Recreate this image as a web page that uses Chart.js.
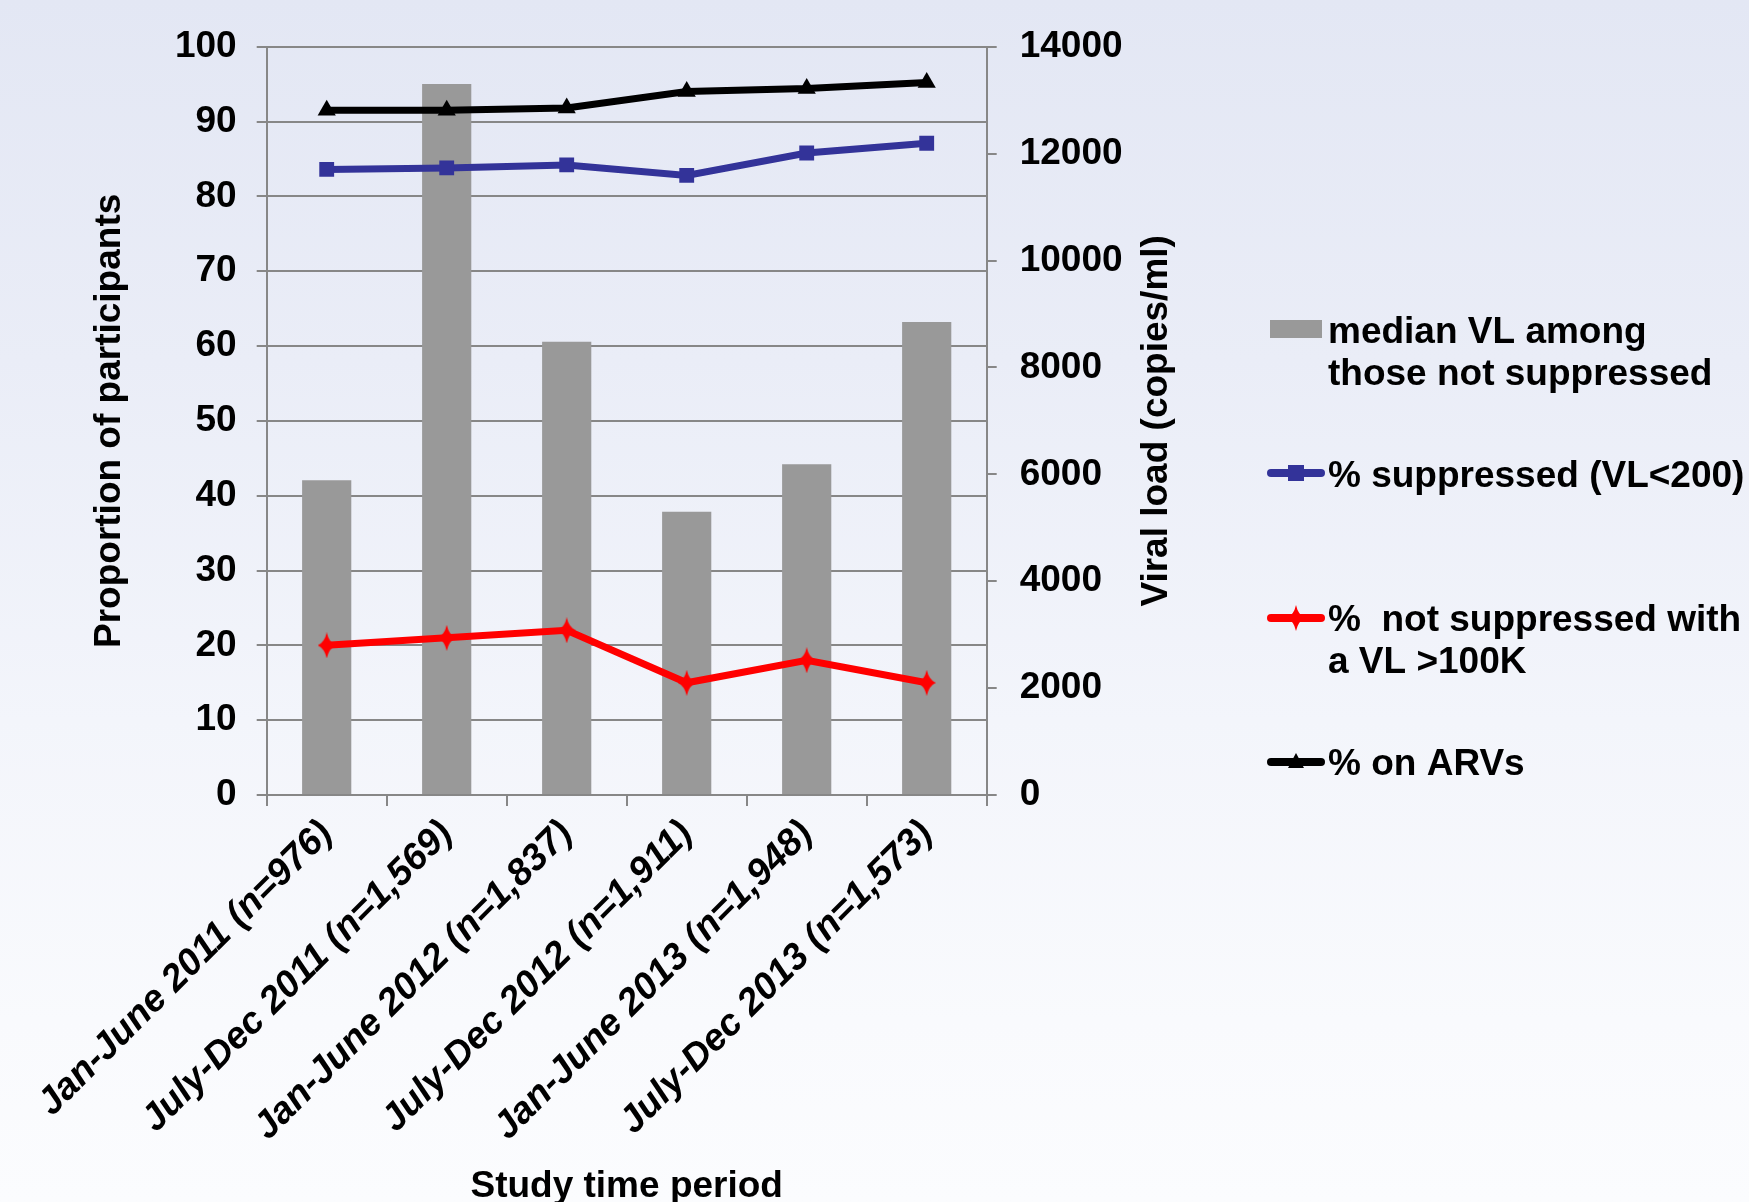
<!DOCTYPE html>
<html>
<head>
<meta charset="utf-8">
<script src="https://cdn.jsdelivr.net/npm/chart.js@4/dist/chart.umd.min.js"></script>
<style>
  html, body {
    margin: 0;
    padding: 0;
    width: 1749px;
    height: 1202px;
    overflow: hidden;
    background: linear-gradient(to bottom, #e3e7f4 0%, #eaedf7 30%, #f3f5fb 60%, #f9fafd 85%, #fbfcfe 100%);
  }
  #c { position: absolute; left: 0; top: 0; }
</style>
</head>
<body>
<canvas id="c" width="1749" height="1202"></canvas>
<script>
// Study periods (x axis)
const categories = [
  'Jan-June 2011 (n=976)',
  'July-Dec 2011 (n=1,569)',
  'Jan-June 2012 (n=1,837)',
  'July-Dec 2012 (n=1,911)',
  'Jan-June 2013 (n=1,948)',
  'July-Dec 2013 (n=1,573)'
];

// Median viral load among those not suppressed (copies/ml, right axis)
const medianVL = [5890, 13300, 8480, 5300, 6190, 8850];

// Percentages (left axis)
const pctSuppressed = [83.6, 83.8, 84.2, 82.8, 85.8, 87.1];
const pctHighVL = [20, 21, 22, 15, 18, 15];
const pctOnARV = [91.5, 91.5, 91.8, 94.0, 94.4, 95.2];

// Series names as shown in the legend (one entry per line)
const labelMedianVL = ['median VL among', 'those not suppressed'];
const labelSuppressed = ['% suppressed (VL<200)'];
const labelHighVL = ['%  not suppressed with', 'a VL >100K'];
const labelOnARV = ['% on ARVs'];

// Axis titles
const titleLeft = 'Proportion of participants';
const titleRight = 'Viral load (copies/ml)';
const titleBottom = 'Study time period';

const FONT = '"Liberation Sans", Arial, Helvetica, sans-serif';
const GRID = '#878787';
const BLUE = '#333399';
const RED = '#ff0000';
const BLACK = '#000000';
const BAR = '#999999';

// Tall narrow diamond used for the red series
function makeDiamond(w, h, color) {
  const cv = document.createElement('canvas');
  cv.width = w; cv.height = h;
  const g = cv.getContext('2d');
  g.fillStyle = color;
  g.beginPath();
  g.moveTo(w / 2, 0);
  g.quadraticCurveTo(w * 0.62, h * 0.38, w, h / 2);
  g.quadraticCurveTo(w * 0.62, h * 0.62, w / 2, h);
  g.quadraticCurveTo(w * 0.38, h * 0.62, 0, h / 2);
  g.quadraticCurveTo(w * 0.38, h * 0.38, w / 2, 0);
  g.closePath();
  g.fill();
  return cv;
}
const diamond = makeDiamond(18, 26, RED);

// Rotated title for the right-hand axis (reads bottom to top)
const rightTitlePlugin = {
  id: 'rightTitle',
  afterDraw(chart) {
    const { ctx, chartArea } = chart;
    const sc = chart.scales.yR;
    ctx.save();
    ctx.translate(sc.left + 170.5, (chartArea.top + chartArea.bottom) / 2);
    ctx.rotate(-Math.PI / 2);
    ctx.font = 'bold 37px ' + FONT;
    ctx.fillStyle = '#000';
    ctx.textAlign = 'center';
    ctx.textBaseline = 'middle';
    ctx.fillText(titleRight, 0, 0);
    ctx.restore();
  }
};

// Legend to the right of the plot, built from the chart's datasets
const sideLegendPlugin = {
  id: 'sideLegend',
  afterDraw(chart) {
    const { ctx } = chart;
    const rows = [
      { ds: 3, markY: 329, base: [343, 385] },
      { ds: 0, markY: 473, base: [487] },
      { ds: 1, markY: 618, base: [631, 673] },
      { ds: 2, markY: 762, base: [775] }
    ];
    const x0 = 1267, x1 = 1325, xm = 1296, tx = 1328;
    ctx.save();
    ctx.font = 'bold 37px ' + FONT;
    ctx.fillStyle = '#000';
    ctx.textBaseline = 'alphabetic';
    ctx.textAlign = 'left';
    rows.forEach(r => {
      const ds = chart.data.datasets[r.ds];
      if (ds.type === 'bar') {
        ctx.fillStyle = ds.backgroundColor;
        ctx.fillRect(1270, r.markY - 9, 52, 18);
      } else {
        ctx.strokeStyle = ds.borderColor;
        ctx.lineWidth = 8;
        ctx.lineCap = 'round';
        ctx.beginPath();
        ctx.moveTo(x0 + 4, r.markY);
        ctx.lineTo(x1 - 4, r.markY);
        ctx.stroke();
        ctx.fillStyle = ds.borderColor;
        if (ds.pointStyle === 'rect') {
          ctx.fillRect(xm - 8, r.markY - 8, 16, 16);
        } else if (ds.pointStyle === 'triangle') {
          ctx.beginPath();
          ctx.moveTo(xm, r.markY - 9);
          ctx.lineTo(xm + 8, r.markY + 6);
          ctx.lineTo(xm - 8, r.markY + 6);
          ctx.closePath();
          ctx.fill();
        } else {
          ctx.drawImage(diamond, xm - 9, r.markY - 13);
        }
      }
      ctx.fillStyle = '#000';
      ds.label.forEach((line, i) => ctx.fillText(line, tx, r.base[i]));
    });
    ctx.restore();
  }
};

const tickFont = { family: FONT, size: 37, weight: 'bold' };

new Chart(document.getElementById('c'), {
  type: 'bar',
  data: {
    labels: categories,
    datasets: [
      {
        type: 'line', label: labelSuppressed, data: pctSuppressed, yAxisID: 'yL',
        borderColor: BLUE, backgroundColor: BLUE, borderWidth: 7,
        pointStyle: 'rect', pointRadius: 10.5, pointBorderWidth: 0, tension: 0, order: 1
      },
      {
        type: 'line', label: labelHighVL, data: pctHighVL, yAxisID: 'yL',
        borderColor: RED, backgroundColor: RED, borderWidth: 7,
        pointStyle: diamond, pointRadius: 10, tension: 0, order: 1
      },
      {
        type: 'line', label: labelOnARV, data: pctOnARV, yAxisID: 'yL',
        borderColor: BLACK, backgroundColor: BLACK, borderWidth: 7,
        pointStyle: 'triangle', pointRadius: 10.5, pointBorderWidth: 0, tension: 0, order: 1
      },
      {
        type: 'bar', label: labelMedianVL, data: medianVL, yAxisID: 'yR',
        backgroundColor: BAR, borderWidth: 0,
        barPercentage: 0.41, categoryPercentage: 1, order: 10
      }
    ]
  },
  options: {
    responsive: false,
    animation: false,
    devicePixelRatio: 1,
    layout: { padding: { left: 91, right: 562.3, top: 46.7, bottom: 0 } },
    plugins: { legend: { display: false }, tooltip: { enabled: false } },
    scales: {
      x: {
        offset: true,
        grid: { display: true, offset: true, drawOnChartArea: false, drawTicks: true, tickLength: 11, color: GRID, lineWidth: 2 },
        border: { display: true, color: GRID, width: 2 },
        ticks: {
          autoSkip: false, maxRotation: 45, minRotation: 45, padding: 6, color: '#000',
          font: { family: FONT, size: 37.5, weight: 'bold', style: 'italic' }
        },
        title: {
          display: true, text: titleBottom, color: '#000', padding: 0,
          font: { family: FONT, size: 37, weight: 'bold', lineHeight: 0.8 }
        },
        afterFit(s) { s.height = 407; }
      },
      yL: {
        position: 'left', min: 0, max: 100,
        grid: { color: GRID, lineWidth: 2, tickLength: 10 },
        border: { color: GRID, width: 2 },
        ticks: { stepSize: 10, padding: 20, color: '#000', font: tickFont },
        title: {
          display: true, text: titleLeft, color: '#000', padding: 0,
          font: { family: FONT, size: 37, weight: 'bold', lineHeight: 1 }
        },
        afterFit(s) { s.width = 175.7; }
      },
      yR: {
        position: 'right', min: 0, max: 14000,
        grid: { drawOnChartArea: false, color: GRID, lineWidth: 2, tickLength: 10 },
        border: { color: GRID, width: 2 },
        ticks: {
          stepSize: 2000, padding: 23, color: '#000', font: tickFont,
          callback: v => String(v)
        },
        afterFit(s) { s.width = 200; }
      }
    }
  },
  plugins: [rightTitlePlugin, sideLegendPlugin]
});
</script>
</body>
</html>
